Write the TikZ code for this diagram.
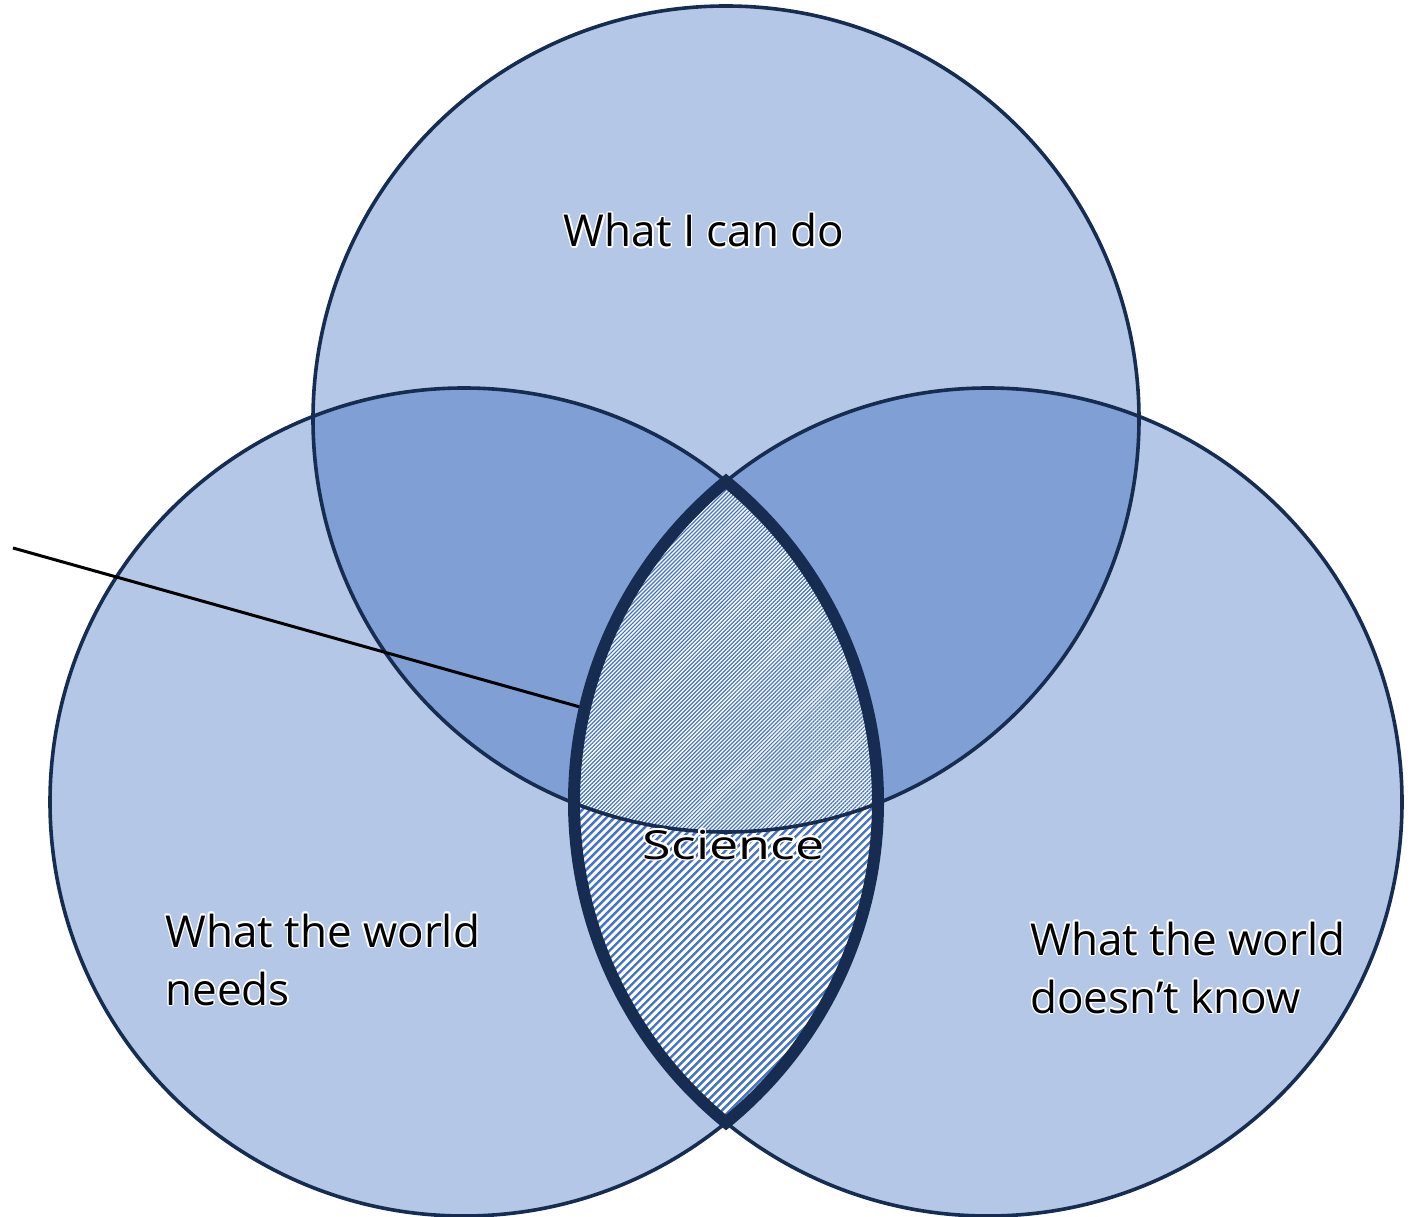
\documentclass[tikz,border=0pt]{standalone}
\usepackage{fontspec}
\setmainfont{Open Sans}
\usepackage{contour}
\contourlength{0.7pt}
\usetikzlibrary{patterns.meta}
\definecolor{light}{HTML}{B4C7E7}
\definecolor{mid}{HTML}{7F9FD5}
\definecolor{navy}{HTML}{172C51}
\definecolor{stripe}{HTML}{4472C4}
\begin{document}
\begin{tikzpicture}[x=0.5pt,y=0.5pt,
  ring/.style={draw=navy,line width=1.8pt},
  lensline/.style={draw=navy,line width=6pt,line join=miter},
  lbl/.style={inner sep=0pt,font=\fontsize{22}{29}\selectfont,align=left,text=black},
  coarse/.style={pattern={Lines[angle=45,distance=2.83pt,line width=1.2pt]},pattern color=stripe},
  fine/.style={pattern={Lines[angle=45,distance=1.41pt,line width=0.6pt]},pattern color=stripe}]
\useasboundingbox (0,0) rectangle (1412,1216);
% circle fills
\fill[light] (726,797) circle[radius=206.5pt];
\fill[light] (464,414) circle[radius=207pt];
\fill[light] (988,414) circle[radius=207pt];
% pairwise overlaps with the top circle
\begin{scope}
  \clip (726,797) circle[radius=206.5pt];
  \fill[mid] (464,414) circle[radius=207pt];
  \fill[mid] (988,414) circle[radius=207pt];
\end{scope}
% hatched lens
\begin{scope}
  \clip (464,414) circle[radius=207pt];
  \clip (988,414) circle[radius=207pt];
  \fill[white] (0,0) rectangle (1412,1216);
  \fill[coarse] (0,0) rectangle (1412,1216);
  \clip (726,797) circle[radius=206.5pt];
  \fill[white] (0,0) rectangle (1412,1216);
  \fill[fine] (0,0) rectangle (1412,1216);
\end{scope}
% outlines
\draw[ring] (726,797) circle[radius=206.5pt];
\draw[ring] (464,414) circle[radius=207pt];
\draw[ring] (988,414) circle[radius=207pt];
% pointer line
\coordinate (lineStart) at (13,668);
\coordinate (lensEdge) at (580,509);
\draw[black,line width=1.5pt] (lineStart) -- (lensEdge);
% lens outline
\draw[lensline] (726,734.5) arc[start angle=50.74,end angle=-50.74,radius=207pt]
  arc[start angle=230.74,end angle=129.26,radius=207pt] -- cycle;
% labels
\node[lbl,anchor=base] (can) at (704,969) {\contour{white}{What I can do}};
\node[lbl,anchor=base west] (needs) at (165,211) {\contour{white}{What the world}\\\contour{white}{needs}};
\node[lbl,anchor=base west] (know) at (1030,203) {\contour{white}{What the world}\\\contour{white}{doesn’t know}};
\node[lbl,anchor=base,font=\fontsize{20}{24}\selectfont] (sci) at (733.5,357) {\scalebox{1.3}[1]{\contour{white}{Science}}};
\end{tikzpicture}
\end{document}
